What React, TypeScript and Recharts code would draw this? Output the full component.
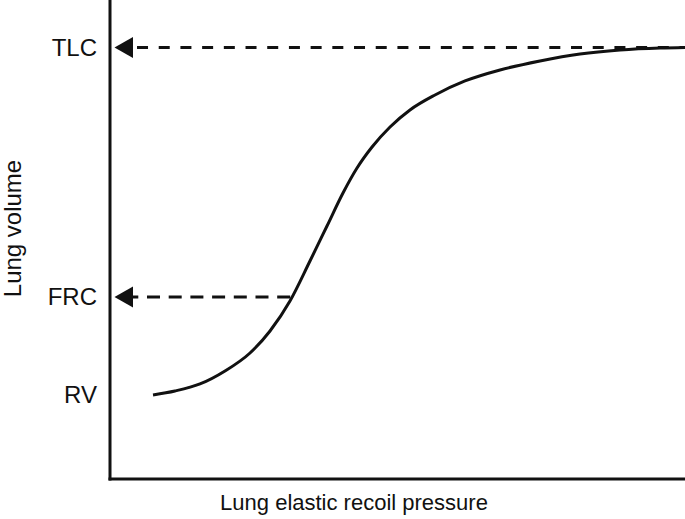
import React from 'react';
import { LineChart, Line, XAxis, YAxis, ReferenceDot } from 'recharts';

// Lung elastic recoil pressure (arbitrary units, 0-100)
const pressure = [7.48, 11.3, 15.65, 20.0, 24.35, 27.83, 31.3, 34.78, 37.74, 40.52, 42.96, 45.57, 48.7, 52.17, 56.52, 61.74, 67.83, 74.78, 81.74, 88.7, 95.65, 100];
// Lung volume (arbitrary units, TLC = 100)
const volume = [19.47, 20.39, 22.02, 25.03, 29.2, 34.3, 41.25, 50.52, 58.63, 66.28, 72.07, 76.94, 81.58, 85.52, 88.99, 92.24, 94.79, 96.87, 98.49, 99.42, 99.88, 100];

const volumeTicks = [19.5, 42.2, 100];
const volumeTickLabels = ['RV', 'FRC', 'TLC'];

const TLC = 100;
const FRC = 42.2;
const arrowBaseX = 4.0;
const tlcLineStart = 4.7;
const frcLineStart = 2.66;
const frcLineEnd = 31.7;

const curveData = pressure.map((p, i) => ({ x: p, y: volume[i] }));
const tlcLine = [{ x: tlcLineStart, y: TLC }, { x: 100, y: TLC }];
const frcLine = [{ x: frcLineStart, y: FRC }, { x: frcLineEnd, y: FRC }];

const INK = '#111';
const FONT = '"Liberation Sans", Arial, Helvetica, sans-serif';

const Arrow = (props: any) => {
  const { cx, cy } = props;
  if (cx == null || cy == null) return null;
  return <polygon points={`${cx},${cy - 10.5} ${cx},${cy + 10.5} ${cx - 18.5},${cy}`} fill={INK} />;
};

export default function App() {
  return (
    <div style={{ fontFamily: FONT }}>
      <LineChart width={685} height={519} margin={{ top: 0, right: 0, bottom: 0, left: 0 }} style={{ position: 'absolute', left: 0, top: 0 }}>
        <XAxis
          type="number"
          dataKey="x"
          domain={[0, 100]}
          allowDataOverflow
          tick={false}
          tickLine={false}
          height={40}
          axisLine={{ stroke: INK, strokeWidth: 3, strokeLinecap: 'square' }}
          label={{
            content: (p: any) => {
              const vb = p.viewBox || { x: 110, y: 479 };
              return (
                <text x={vb.x + 244} y={vb.y + 31} textAnchor="middle" fontSize={22} fill={INK} fontFamily={FONT}>
                  Lung elastic recoil pressure
                </text>
              );
            },
          }}
        />
        <YAxis
          type="number"
          dataKey="y"
          domain={[0, 111]}
          allowDataOverflow
          ticks={volumeTicks}
          tickFormatter={(v: number) => volumeTickLabels[volumeTicks.indexOf(v)] ?? ''}
          tickLine={false}
          tickSize={11}
          tickMargin={2}
          width={110}
          tick={{ fontSize: 24, fill: INK, fontFamily: FONT }}
          axisLine={{ stroke: INK, strokeWidth: 3, strokeLinecap: 'square' }}
          label={{
            content: (p: any) => {
              const vb = p.viewBox || { x: 0, y: 0 };
              const cx = vb.x + 12;
              const cy = vb.y + 228.5;
              return (
                <text x={cx} y={cy} dy="0.355em" textAnchor="middle" fontSize={24} fill={INK} fontFamily={FONT} transform={`rotate(-90, ${cx}, ${cy})`}>
                  Lung volume
                </text>
              );
            },
          }}
        />
        <Line data={tlcLine} dataKey="y" type="linear" stroke={INK} strokeWidth={3} strokeDasharray="11 10.7" dot={false} isAnimationActive={false} />
        <Line data={frcLine} dataKey="y" type="linear" stroke={INK} strokeWidth={3} strokeDasharray="13 8.7" dot={false} isAnimationActive={false} />
        <Line data={curveData} dataKey="y" type="monotone" stroke={INK} strokeWidth={3} dot={false} isAnimationActive={false} />
        <ReferenceDot x={arrowBaseX} y={TLC} shape={<Arrow />} ifOverflow="visible" />
        <ReferenceDot x={arrowBaseX} y={FRC} shape={<Arrow />} ifOverflow="visible" />
      </LineChart>
    </div>
  );
}
